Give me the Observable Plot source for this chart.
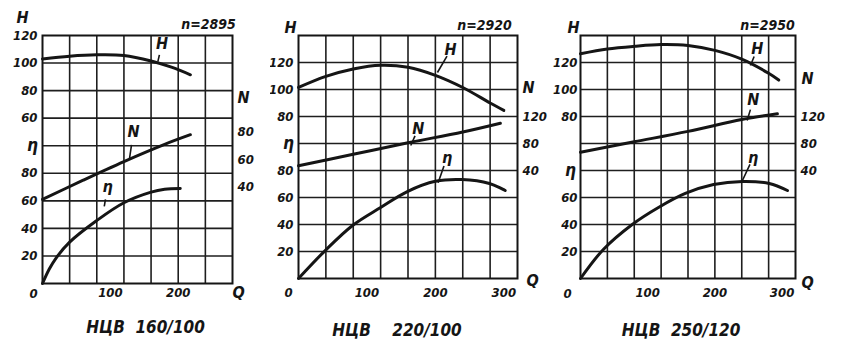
<!DOCTYPE html>
<html><head><meta charset="utf-8">
<script src="https://cdn.jsdelivr.net/npm/d3@7"></script>
<script src="https://cdn.jsdelivr.net/npm/@observablehq/plot@0.6"></script>
<style>
body{margin:0;background:#fff;}
#wrap{position:relative;width:850px;height:355px;overflow:hidden;background:#fff;}
#wrap > div{position:absolute;top:0;}
</style></head><body><div id="wrap"></div>
<script>
// ---- texts ----
const titles = ["НЦВ  160/100", "НЦВ    220/100", "НЦВ  250/120"];
const speeds = ["n=2895", "n=2920", "n=2950"];
const qTicks = [[100, 200], [100, 200, 300], [100, 200, 300]];
const etaTicks = [[20, 40, 60, 80], [20, 40, 60, 80], [20, 40, 60]];
const hTicks = [[60, 80, 100, 120], [80, 100, 120], [80, 100, 120]];
const nTicks = [[40, 60, 80], [40, 80, 120], [40, 80, 120]];

// ---- panel 1: НЦВ 160/100 ----
const q1H = [0, 40, 80, 120, 160, 190, 218];
const h1  = [103, 105, 106, 105.5, 101.5, 97, 91.5];
const q1N = [0, 60, 120, 180, 218];
const n1  = [31, 45, 58.5, 71, 78];
const q1E = [0, 10, 20, 40, 80, 120, 160, 180, 203];
const e1  = [0, 10.5, 18.5, 30, 45.7, 58.6, 66.3, 68.4, 69];

// ---- panel 2: НЦВ 220/100 ----
const q2H = [0, 40, 80, 120, 160, 200, 240, 280, 300];
const h2  = [101.5, 109.7, 115.2, 118, 116.5, 110.5, 101.5, 90, 84.5];
const q2N = [0, 80, 160, 240, 295];
const n2  = [47, 64, 81, 97, 110];
const q2E = [0, 39, 79, 120, 159, 200, 239, 279, 302];
const e2  = [0, 20.7, 39.3, 52.6, 64.4, 72, 73.3, 70.4, 65.2];

// ---- panel 3: НЦВ 250/120 ----
const q3H = [0, 40, 80, 120, 160, 200, 240, 280, 295];
const h3  = [126.5, 130, 132, 133.3, 132.6, 129, 122.5, 112, 107];
const q3N = [0, 80, 160, 240, 293];
const n3  = [67, 82.5, 98, 115.5, 124];
const q3E = [0, 34, 77, 116, 156, 198, 241, 281, 308];
const e3  = [0, 21.5, 40, 52.6, 63, 69.6, 71.9, 70.4, 65.2];

// curve-name annotations (Q, grid units) and leader ticks
const labels1 = [{t:"H", q:176, y:174, q2:170, y2:161}, {t:"N", q:134, y:110, q2:128, y2:90}, {t:"η", q:96, y:70, q2:91, y2:56}];
const labels2 = [{t:"H", q:222, y:169, q2:203, y2:152.6}, {t:"N", q:175, y:111, q2:164, y2:98.5}, {t:"η", q:217, y:89.6, q2:204, y2:71}];
const labels3 = [{t:"H", q:263, y:170, q2:253, y2:157.8}, {t:"N", q:257, y:132, q2:248, y2:117}, {t:"η", q:257, y:89.6, q2:241, y2:72.6}];

const FONT = "'DejaVu Sans Condensed', 'DejaVu Sans', sans-serif";
const INK = "#151515";

function series(name, qs, vs, f) { return qs.map((q, i) => ({s: name, q, y: f(vs[i])})); }

function drawPanel(k, cfg) {
  const {H, N, E, lab, hToY, nToY, xMax, etaSymY} = cfg;
  const lines = [
    ...series("H", H[0], H[1], hToY),
    ...series("N", N[0], N[1], nToY),
    ...series("E", E[0], E[1], v => v)
  ];
  const leftMap = new Map([
    ...etaTicks[k].map(v => [v, String(v)]),
    ...hTicks[k].map(v => [hToY(v), String(v)])
  ]);
  const rightMap = new Map(nTicks[k].map(v => [nToY(v), String(v)]));
  const leaders = lab.map(d => {
    const dx = d.q2 - d.q, dy = d.y2 - d.y, L = Math.hypot(dx / cfg.qPer, dy / cfg.yPer);
    const s = cfg.gap / L;
    return {x1: d.q + dx * s, y1: d.y + dy * s, x2: d.q2, y2: d.y2};
  });
  const fa = (anchor, dx, dy, size) => ({frameAnchor: anchor, dx, dy, textAnchor: "middle", lineAnchor: "middle", fontSize: size, fill: INK});
  const chart = Plot.plot({
    width: cfg.width, height: 355,
    marginLeft: cfg.ml, marginRight: cfg.mr, marginTop: 35, marginBottom: cfg.mb,
    x: {domain: [0, xMax], axis: null},
    y: {domain: [0, 180], axis: null},
    style: {fontFamily: FONT, fontStyle: "italic", fontWeight: "bold", fontSize: "13px", color: INK, background: "transparent"},
    marks: [
      Plot.gridX({ticks: d3.range(40, xMax, 40), stroke: "#1e1e1e", strokeOpacity: 1, strokeWidth: 1.6}),
      Plot.gridY({ticks: d3.range(20, 180, 20), stroke: "#1e1e1e", strokeOpacity: 1, strokeWidth: 1.6}),
      Plot.frame({stroke: INK, strokeWidth: 2}),
      Plot.axisY({anchor: "left", ticks: [...leftMap.keys()], tickFormat: d => leftMap.get(d), tickSize: 0, tickPadding: cfg.lpad, fontSize: 13}),
      Plot.axisY({anchor: "right", ticks: [...rightMap.keys()], tickFormat: d => rightMap.get(d), tickSize: 0, tickPadding: 5, fontSize: 13}),
      Plot.axisX({anchor: "bottom", ticks: qTicks[k], tickSize: 0, tickPadding: cfg.bpad, fontSize: 13}),
      Plot.line(lines, {x: "q", y: "y", z: "s", curve: "catmull-rom", stroke: INK, strokeWidth: 3, strokeLinecap: "round"}),
      Plot.link(leaders, {x1: "x1", y1: "y1", x2: "x2", y2: "y2", stroke: INK, strokeWidth: 1.6}),
      Plot.text(lab, {x: "q", y: "y", text: "t", fontSize: 16, fill: INK}),
      Plot.text(["η"], {x: 0, y: etaSymY, dx: -10, fontSize: 17, fill: INK}),
      Plot.text(["H"], fa("top-left", cfg.hPos[0], cfg.hPos[1], 16)),
      Plot.text(["N"], fa("top-right", cfg.nPos[0], cfg.nPos[1], 16)),
      Plot.text(["Q"], fa("bottom-right", cfg.qPos[0], cfg.qPos[1], 16)),
      Plot.text(["0"], fa("bottom-left", cfg.zPos[0], cfg.zPos[1], 13)),
      Plot.text([speeds[k]], fa("top-right", cfg.sPos[0], cfg.sPos[1], 14)),
      Plot.text([titles[k]], fa("bottom", cfg.tPos[0], cfg.tPos[1], 17))
    ]
  });
  const div = document.createElement("div");
  div.style.left = cfg.left + "px";
  div.appendChild(chart);
  document.getElementById("wrap").appendChild(div);
}

drawPanel(0, {
  left: 0, width: 270, ml: 42, mr: 38, mb: 72, xMax: 280, lpad: 5, bpad: 4,
  qPer: 0.6785, yPer: 1.378, gap: 8,
  H: [q1H, h1], N: [q1N, n1], E: [q1E, e1], lab: labels1,
  hToY: v => v + 60, nToY: v => v + 30, etaSymY: 100,
  hPos: [-20, -18], nPos: [11, 62], qPos: [6, 9], zPos: [-9, 10], sPos: [-24, -11], tPos: [8, 44]
});
drawPanel(1, {
  left: 270, width: 280, ml: 28, mr: 33, mb: 77, xMax: 320, lpad: 5, bpad: 9,
  qPer: 0.685, yPer: 1.35, gap: 8,
  H: [q2H, h2], N: [q2N, n2], E: [q2E, e2], lab: labels2,
  hToY: v => v + 40, nToY: v => 60 + v / 2, etaSymY: 100,
  hPos: [-8, -8], nPos: [11, 52], qPos: [15, 2], zPos: [-10, 14], sPos: [-33, -10], tPos: [-11, 52]
});
drawPanel(2, {
  left: 550, width: 300, ml: 30, mr: 55, mb: 77, xMax: 320, lpad: 3, bpad: 9,
  qPer: 0.6725, yPer: 1.35, gap: 8,
  H: [q3H, h3], N: [q3N, n3], E: [q3E, e3], lab: labels3,
  hToY: v => v + 40, nToY: v => 60 + v / 2, etaSymY: 80,
  hPos: [-7, -8], nPos: [12, 43], qPos: [12, 4], zPos: [-13, 15], sPos: [-28, -10], tPos: [-7, 52]
});
</script></body></html>
